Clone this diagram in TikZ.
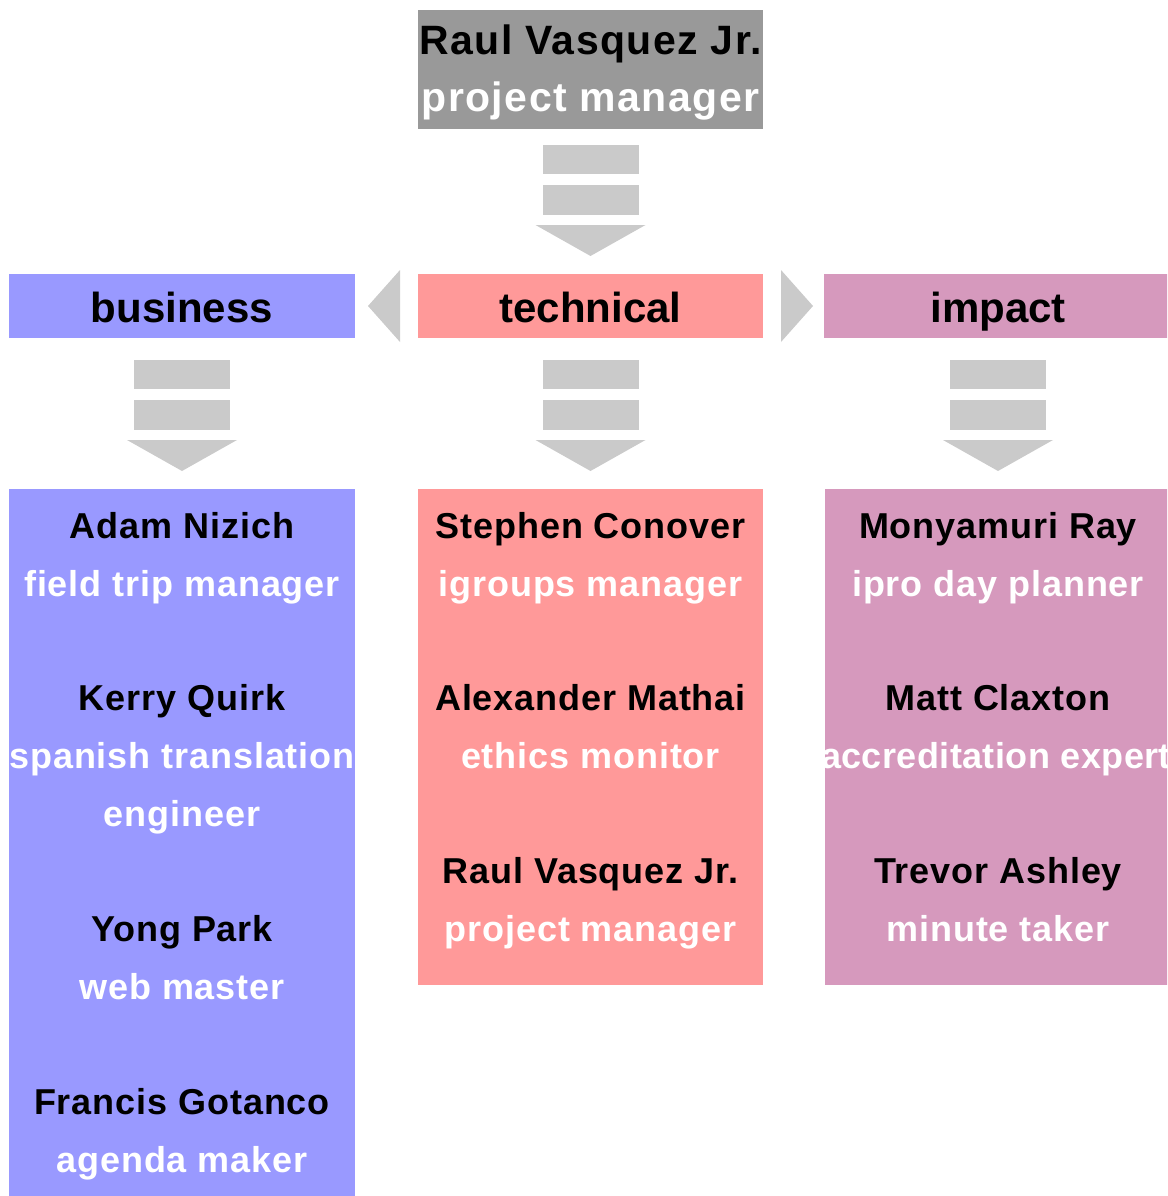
\documentclass[tikz,border=0pt]{standalone}
\usepackage{fontspec}
\setmainfont{Liberation Sans}
\newfontfamily\spacedsans{Liberation Sans}[LetterSpace=2.5]
\newfontfamily\tightsans{Liberation Sans}[LetterSpace=1.2]
\newfontfamily\topsans{Liberation Sans}[LetterSpace=3.5]
\begin{document}
\begin{tikzpicture}[x=1pt,y=-1pt,
  panel/.style={draw=none,inner sep=0pt,anchor=north west},
  arr/.style={fill=arrowgray,draw=none},
  nm/.style={anchor=base,inner sep=0pt,text=black,font=\spacedsans\fontsize{36}{40}\selectfont\bfseries},
  rl/.style={anchor=base,inner sep=0pt,text=white,font=\spacedsans\fontsize{36}{40}\selectfont\bfseries},
  hd/.style={anchor=base,inner sep=0pt,text=black,font=\fontsize{42}{46}\selectfont\bfseries},
  tp/.style={anchor=base,inner sep=0pt,font=\topsans\fontsize{41}{46}\selectfont\bfseries}]
\definecolor{topgray}{HTML}{999999}
\definecolor{arrowgray}{HTML}{CACACA}
\definecolor{bizblue}{HTML}{9999FF}
\definecolor{techred}{HTML}{FF9999}
\definecolor{impmag}{HTML}{D699BD}
\useasboundingbox (0,0) rectangle (1167,1196);
\begin{scope}
\clip (0,0) rectangle (1167,1196);
% top box
\node[panel,fill=topgray,minimum width=345pt,minimum height=119pt] (top) at (418,10) {};
\node[tp,text=black] (topname) at (590.5,55) {Raul Vasquez Jr.};
\node[tp,text=white] (toprole) at (590.5,112) {project manager};
% headers
\node[panel,fill=bizblue,minimum width=346pt,minimum height=64pt] (biz) at (9,274) {};
\node[panel,fill=techred,minimum width=345pt,minimum height=64pt] (tech) at (418,274) {};
\node[panel,fill=impmag,minimum width=350pt,minimum height=64pt] (imp) at (824,274) {};
\node[hd] (bizt) at (182,322) {business};
\node[hd] (techt) at (590.5,322) {technical};
\node[hd] (impt) at (998,322) {impact};
% side arrows
\fill[arr] (368,306) -- (400,270) -- (400,342) -- cycle;
\fill[arr] (813,306) -- (781,270) -- (781,342) -- cycle;
% down arrows
\foreach \cx/\yt in {590.5/145, 182/360, 590.5/360, 998/360}{
  \fill[arr] (\cx-48,\yt) rectangle (\cx+48,\yt+29);
  \fill[arr] (\cx-48,\yt+40) rectangle (\cx+48,\yt+70);
  \fill[arr] (\cx-55,\yt+80) -- (\cx+55,\yt+80) -- (\cx,\yt+111) -- cycle;
}
% bottom panels
\node[panel,fill=bizblue,minimum width=346pt,minimum height=720pt] (bizp) at (9,489) {};
\node[panel,fill=techred,minimum width=345pt,minimum height=496pt] (techp) at (418,489) {};
\node[panel,fill=impmag,minimum width=350pt,minimum height=496pt] (impp) at (825,489) {};
% business texts
\node[nm] (b1n) at (182,538) {Adam Nizich};
\node[rl] (b1r) at (182,596) {field trip manager};
\node[nm] (b2n) at (182,710) {Kerry Quirk};
\node[rl] (b2r) at (182,768) {spanish translation};
\node[rl] (b2r2) at (182,826) {engineer};
\node[nm] (b3n) at (182,941) {Yong Park};
\node[rl] (b3r) at (182,999) {web master};
\node[nm] (b4n) at (182,1114) {Francis Gotanco};
\node[rl] (b4r) at (182,1172) {agenda maker};
% technical texts
\node[nm] (t1n) at (590.5,538) {Stephen Conover};
\node[rl] (t1r) at (590.5,596) {igroups manager};
\node[nm] (t2n) at (590.5,710) {Alexander Mathai};
\node[rl] (t2r) at (590.5,768) {ethics monitor};
\node[nm] (t3n) at (590.5,883) {Raul Vasquez Jr.};
\node[rl] (t3r) at (590.5,941) {project manager};
% impact texts
\node[nm] (i1n) at (998,538) {Monyamuri Ray};
\node[rl] (i1r) at (998,596) {ipro day planner};
\node[nm] (i2n) at (998,710) {Matt Claxton};
\node[rl,font=\tightsans\fontsize{36}{40}\selectfont\bfseries] (i2r) at (996,768) {accreditation expert};
\node[nm] (i3n) at (998,883) {Trevor Ashley};
\node[rl] (i3r) at (998,941) {minute taker};
\end{scope}
\end{tikzpicture}
\end{document}
